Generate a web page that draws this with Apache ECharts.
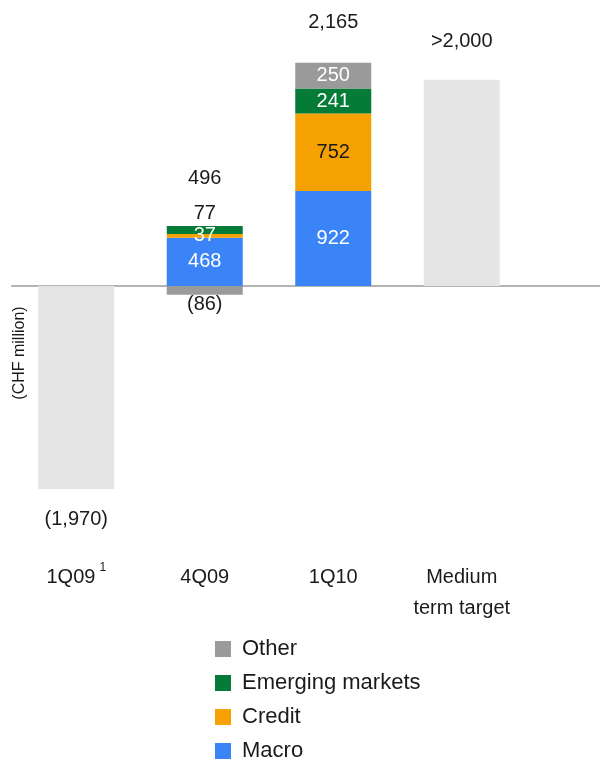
<!DOCTYPE html>
<html>
<head>
<meta charset="utf-8">
<script src="https://cdn.jsdelivr.net/npm/echarts@6/dist/echarts.min.js"></script>
<style>html,body{margin:0;padding:0;background:#fff}#c{width:600px;height:763px}</style>
</head>
<body>
<div id="c"></div>
<script>
// ---- data ----
const categories = ['1Q09', '4Q09', '1Q10', 'Medium\nterm target'];
const footnotes = ['1', '', '', ''];
const macro = [null, 468, 922, null];
const credit = [null, 37, 752, null];
const emerging = [null, 77, 241, null];
const other = [null, -86, 250, null];
const reference = [-1970, null, null, 2000];
const referencePrefix = ['', '', '', '>'];
const legendOrder = ['Other', 'Emerging markets', 'Credit', 'Macro'];

// ---- helpers ----
const FONT = 'Liberation Sans, Arial, sans-serif';
const DARK = '#1a1a1a';
function fmt(v) {
  const s = Math.abs(v).toLocaleString('en-US');
  return v < 0 ? '(' + s + ')' : s;
}
const inW = { show: true, position: 'inside', color: '#fff' };
const inD = { show: true, position: 'inside', color: DARK };
function items(values, labels) {
  return values.map((v, i) => {
    if (v === null) return '-';
    const o = { value: v };
    if (labels[i]) o.label = labels[i];
    return o;
  });
}
const stackTop = categories.map((_, i) =>
  [macro, credit, emerging, other].reduce((s, a) => s + (a[i] > 0 ? a[i] : 0), 0));
const netTotal = categories.map((_, i) =>
  [macro, credit, emerging, other].reduce((s, a) => s + (a[i] || 0), 0));
const hasStack = categories.map((_, i) => macro[i] !== null);

const Y_MIN = -2200, Y_MAX = 2400;
const GRID = { left: 12, top: 38.6, height: 474.2 };

const barCommon = {
  type: 'bar', stack: 'a', barWidth: 76, xAxisIndex: 0, yAxisIndex: 0,
  label: { show: false, fontSize: 20, fontFamily: FONT, formatter: p => fmt(p.value) }
};

const option = {
  animation: false,
  textStyle: { fontFamily: FONT },
  grid: [
    { left: GRID.left, top: GRID.top, width: 514, height: GRID.height },
    { left: GRID.left, top: GRID.top, right: 0, height: GRID.height }
  ],
  xAxis: [
    {
      gridIndex: 0, type: 'category', data: categories, position: 'bottom',
      axisLine: { show: false, onZero: false }, axisTick: { show: false },
      axisLabel: {
        margin: 49, fontSize: 20, lineHeight: 31, color: DARK, fontFamily: FONT, interval: 0,
        formatter: (v, i) => footnotes[i] ? v + '{sup|' + footnotes[i] + '}' : v,
        rich: { sup: { fontSize: 12, lineHeight: 0, verticalAlign: 'top', color: DARK, padding: [0, 0, 0, 4], fontFamily: FONT } }
      }
    },
    {
      gridIndex: 1, type: 'category', data: [''],
      axisLine: { show: true, onZero: true, lineStyle: { color: '#b4b4b4', width: 2 } },
      axisTick: { show: false }, axisLabel: { show: false }
    }
  ],
  yAxis: [
    { gridIndex: 0, type: 'value', min: Y_MIN, max: Y_MAX, show: false },
    { gridIndex: 1, type: 'value', min: Y_MIN, max: Y_MAX, show: false }
  ],
  legend: {
    orient: 'vertical', left: 215, top: 638, height: 200, padding: 0,
    itemWidth: 16, itemHeight: 16, itemGap: 12,
    icon: 'rect', data: legendOrder,
    textStyle: { fontSize: 22, color: DARK, lineHeight: 22, padding: [0, 0, 0, 6], fontFamily: FONT }
  },
  graphic: [{
    type: 'text', x: 20, y: 353, rotation: Math.PI / 2,
    style: { text: '(CHF million)', fontSize: 16, fill: DARK, align: 'center', verticalAlign: 'middle', fontFamily: FONT }
  }],
  series: [
    Object.assign({}, barCommon, {
      name: 'Reference', itemStyle: { color: '#e5e5e5' },
      data: items(reference, [
        { show: true, position: 'bottom', distance: 20, color: DARK },
        null, null,
        { show: true, position: 'top', distance: 28, color: DARK }
      ]),
      label: Object.assign({}, barCommon.label, { formatter: p => referencePrefix[p.dataIndex] + fmt(p.value) })
    }),
    Object.assign({}, barCommon, {
      name: 'Macro', itemStyle: { color: '#3a84f7' },
      data: items(macro, [null, inW, inW, null])
    }),
    Object.assign({}, barCommon, {
      name: 'Credit', itemStyle: { color: '#f5a101' },
      data: items(credit, [null, inW, inD, null])
    }),
    Object.assign({}, barCommon, {
      name: 'Emerging markets', itemStyle: { color: '#047b36' },
      data: items(emerging, [null, { show: true, position: 'top', distance: 3, color: DARK }, inW, null])
    }),
    Object.assign({}, barCommon, {
      name: 'Other', itemStyle: { color: '#9a9a9a' },
      data: items(other, [null, { show: true, position: 'bottom', distance: 0, color: DARK }, inW, null])
    }),
    {
      name: 'Total', type: 'scatter', xAxisIndex: 0, yAxisIndex: 0, symbolSize: 0,
      itemStyle: { opacity: 1, color: DARK },
      data: stackTop.map((v, i) => hasStack[i] ? {
        value: v,
        label: { distance: i === 1 ? 38 : 30, color: DARK, opacity: 1 }
      } : '-'),
      label: {
        show: true, position: 'top', fontSize: 20, color: DARK, opacity: 1, fontFamily: FONT,
        formatter: p => fmt(netTotal[p.dataIndex])
      }
    }
  ]
};
echarts.init(document.getElementById('c'), null, { renderer: 'canvas' }).setOption(option);
</script>
</body>
</html>
